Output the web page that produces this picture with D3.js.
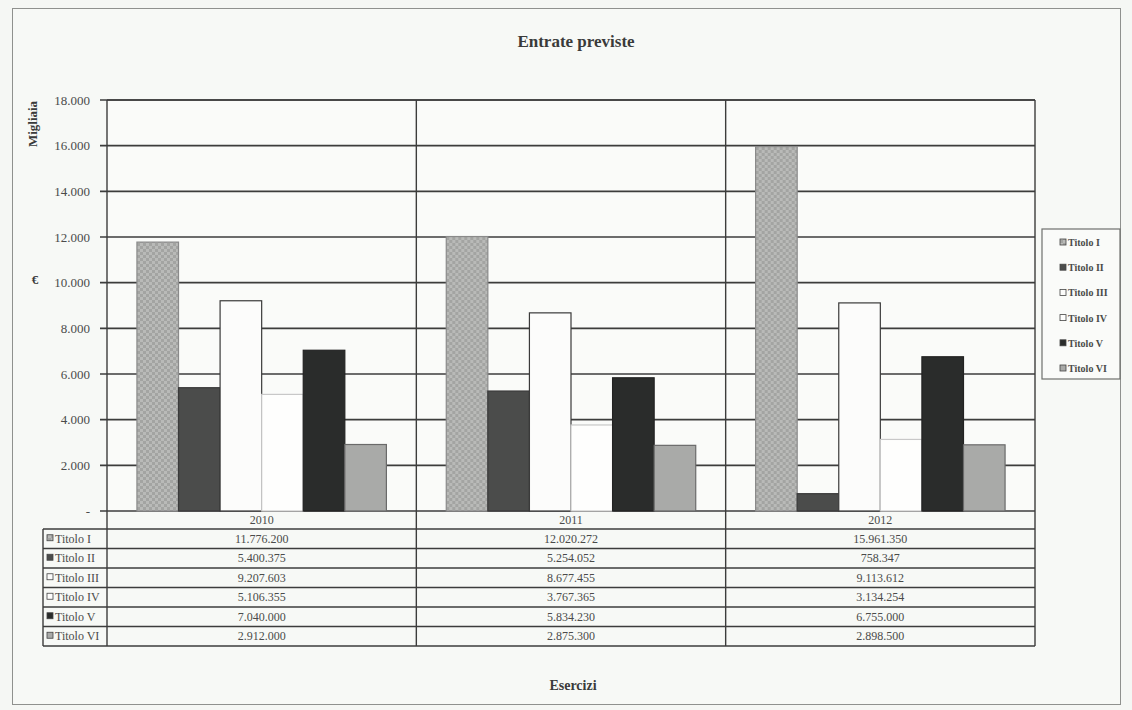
<!DOCTYPE html>
<html>
<head>
<meta charset="utf-8">
<script src="https://cdn.jsdelivr.net/npm/d3@7"></script>
<style>
  body { margin: 0; background: #f5f7f4; }
  svg { display: block; font-family: "Liberation Serif", "DejaVu Serif", serif; }
</style>
</head>
<body>
<svg id="chart" width="1132" height="710"></svg>
<script>
// Esercizi (anni) e titoli di entrata
const years = ["2010", "2011", "2012"];
const series = ["Titolo I", "Titolo II", "Titolo III", "Titolo IV", "Titolo V", "Titolo VI"];

// Entrate previste in euro, per titolo (2010, 2011, 2012)
const titoloI   = [11776200, 12020272, 15961350];
const titoloII  = [5400375, 5254052, 758347];
const titoloIII = [9207603, 8677455, 9113612];
const titoloIV  = [5106355, 3767365, 3134254];
const titoloV   = [7040000, 5834230, 6755000];
const titoloVI  = [2912000, 2875300, 2898500];

// Tacche dell'asse (migliaia di euro)
const yTicks = [0, 2000, 4000, 6000, 8000, 10000, 12000, 14000, 16000, 18000];

const seriesValues = [titoloI, titoloII, titoloIII, titoloIV, titoloV, titoloVI];

const it = d3.formatLocale({ decimal: ",", thousands: ".", grouping: [3], currency: ["", " €"] });
const fmt = it.format(",d");

const svg = d3.select("#chart");

// Stile delle serie
const fills = ["url(#check)", "#4b4c4b", "#fcfcfb", "#fefefd", "#2a2c2b", "#a9aaa8"];
const strokes = ["#8a8a8a", "#3a3a3a", "#3a3a3a", "#c8c8c8", "#222", "#6a6a6a"];

const defs = svg.append("defs");
const pat = defs.append("pattern").attr("id", "check")
  .attr("width", 6).attr("height", 6).attr("patternUnits", "userSpaceOnUse");
pat.append("rect").attr("width", 6).attr("height", 6).attr("fill", "#a3a4a2");
pat.append("rect").attr("width", 3).attr("height", 3).attr("fill", "#b9bab8");
pat.append("rect").attr("x", 3).attr("y", 3).attr("width", 3).attr("height", 3).attr("fill", "#b9bab8");

// Riquadro generale
svg.append("rect").attr("x", 12.5).attr("y", 8.5).attr("width", 1108).attr("height", 696)
  .attr("fill", "#f7f9f6").attr("stroke", "#8f918e").attr("stroke-width", 1);

const plot = { left: 107, right: 1035, top: 100, bottom: 511 };

const x0 = d3.scaleBand().domain(years).range([plot.left, plot.right]).paddingInner(0).paddingOuter(0);
const x1 = d3.scaleBand().domain(series).range([0, x0.bandwidth()]).paddingInner(0).paddingOuter(0.72);
const y = d3.scaleLinear().domain([0, 18000]).range([plot.bottom, plot.top]);

// Area del grafico
svg.append("rect").attr("x", plot.left).attr("y", plot.top)
  .attr("width", plot.right - plot.left).attr("height", plot.bottom - plot.top)
  .attr("fill", "#fafbf9");

// Griglia orizzontale
svg.append("g").selectAll("line").data(yTicks).join("line")
  .attr("x1", plot.left - 7).attr("x2", plot.right)
  .attr("y1", d => y(d)).attr("y2", d => y(d))
  .attr("stroke", "#3c3d3c").attr("stroke-width", 1.6);

// Asse Y con etichette
const yAxis = d3.axisLeft(y).tickValues(yTicks).tickSize(0).tickPadding(17)
  .tickFormat(d => d === 0 ? "-" : fmt(d));
const gy = svg.append("g").attr("transform", `translate(${plot.left},0)`).call(yAxis);
gy.select(".domain").remove();
gy.selectAll("text").attr("font-size", 13).attr("fill", "#4a4b4a")
  .attr("font-family", "Liberation Serif, serif");

// Barre
const groups = svg.append("g").selectAll("g").data(years).join("g")
  .attr("transform", d => `translate(${x0(d)},0)`);
groups.selectAll("rect").data((yr, yi) => series.map((s, si) => ({ s, si, v: seriesValues[si][yi] / 1000 })))
  .join("rect")
  .attr("x", d => x1(d.s))
  .attr("width", x1.bandwidth())
  .attr("y", d => y(d.v))
  .attr("height", d => y(0) - y(d.v))
  .attr("fill", d => fills[d.si])
  .attr("stroke", d => strokes[d.si])
  .attr("stroke-width", 1.2);

// Divisori verticali tra gli esercizi
const vx = years.map(yr => x0(yr)).concat([plot.right]);
svg.append("g").selectAll("line").data(vx).join("line")
  .attr("x1", d => d).attr("x2", d => d)
  .attr("y1", plot.top).attr("y2", 646)
  .attr("stroke", "#3c3d3c").attr("stroke-width", 1.4);

// Bordo superiore dell'area
svg.append("line").attr("x1", plot.left).attr("x2", plot.right)
  .attr("y1", plot.top).attr("y2", plot.top).attr("stroke", "#3c3d3c").attr("stroke-width", 1.6);

// Tabella dati
const tbl = { left: 43, headTop: plot.bottom, headBottom: 529, rowH: 19.5 };
const rowTop = i => tbl.headBottom + i * tbl.rowH;

svg.append("g").selectAll("text").data(years).join("text")
  .attr("x", d => x0(d) + x0.bandwidth() / 2)
  .attr("y", (tbl.headTop + tbl.headBottom) / 2 + 4)
  .attr("text-anchor", "middle").attr("font-size", 12).attr("fill", "#4a4b4a")
  .text(d => d);

const hLines = d3.range(series.length + 1).map(rowTop);
svg.append("g").selectAll("line").data(hLines).join("line")
  .attr("x1", tbl.left).attr("x2", plot.right)
  .attr("y1", d => d).attr("y2", d => d)
  .attr("stroke", "#3c3d3c").attr("stroke-width", 1.5);
svg.append("line").attr("x1", tbl.left).attr("x2", tbl.left)
  .attr("y1", rowTop(0)).attr("y2", rowTop(series.length))
  .attr("stroke", "#3c3d3c").attr("stroke-width", 1.4);

const rows = svg.append("g").selectAll("g").data(series).join("g")
  .attr("transform", (d, i) => `translate(0,${rowTop(i)})`);
rows.append("rect")
  .attr("x", tbl.left + 4).attr("y", tbl.rowH / 2 - 4).attr("width", 6).attr("height", 6)
  .attr("fill", (d, i) => fills[i]).attr("stroke", "#444").attr("stroke-width", 0.8);
rows.append("text")
  .attr("x", tbl.left + 12).attr("y", tbl.rowH / 2 + 4)
  .attr("font-size", 12).attr("fill", "#4a4b4a").text(d => d);
rows.selectAll("text.val").data((s, si) => years.map((yr, yi) => ({ yr, v: seriesValues[si][yi] })))
  .join("text").attr("class", "val")
  .attr("x", d => x0(d.yr) + x0.bandwidth() / 2)
  .attr("y", tbl.rowH / 2 + 4)
  .attr("text-anchor", "middle").attr("font-size", 12).attr("fill", "#4a4b4a")
  .text(d => fmt(d.v));

// Titoli
svg.append("text").attr("x", 576).attr("y", 47).attr("text-anchor", "middle")
  .attr("font-size", 17).attr("font-weight", "bold").attr("fill", "#3a3b3a")
  .text("Entrate previste");
svg.append("text").attr("x", 573).attr("y", 690).attr("text-anchor", "middle")
  .attr("font-size", 14).attr("font-weight", "bold").attr("fill", "#3a3b3a")
  .text("Esercizi");
svg.append("text").attr("transform", "translate(37,124) rotate(-90)").attr("text-anchor", "middle")
  .attr("font-size", 13).attr("font-weight", "bold").attr("fill", "#3a3b3a")
  .text("Migliaia");
svg.append("text").attr("x", 35).attr("y", 284).attr("text-anchor", "middle")
  .attr("font-size", 13).attr("font-weight", "bold").attr("fill", "#3a3b3a")
  .text("€");

// Legenda
const lg = svg.append("g").attr("transform", "translate(1042,229)");
lg.append("rect").attr("width", 78).attr("height", 150)
  .attr("fill", "#fafbf9").attr("stroke", "#6e706d").attr("stroke-width", 1.2);
const li = lg.selectAll("g").data(series).join("g")
  .attr("transform", (d, i) => `translate(0,${14 + i * 25.2})`);
li.append("rect").attr("x", 18).attr("y", -4).attr("width", 6).attr("height", 6)
  .attr("fill", (d, i) => fills[i]).attr("stroke", "#444").attr("stroke-width", 0.8);
li.append("text").attr("x", 26).attr("y", 3).attr("font-size", 10).attr("font-weight", "bold")
  .attr("fill", "#4a4b4a").text(d => d);
</script>
</body>
</html>
